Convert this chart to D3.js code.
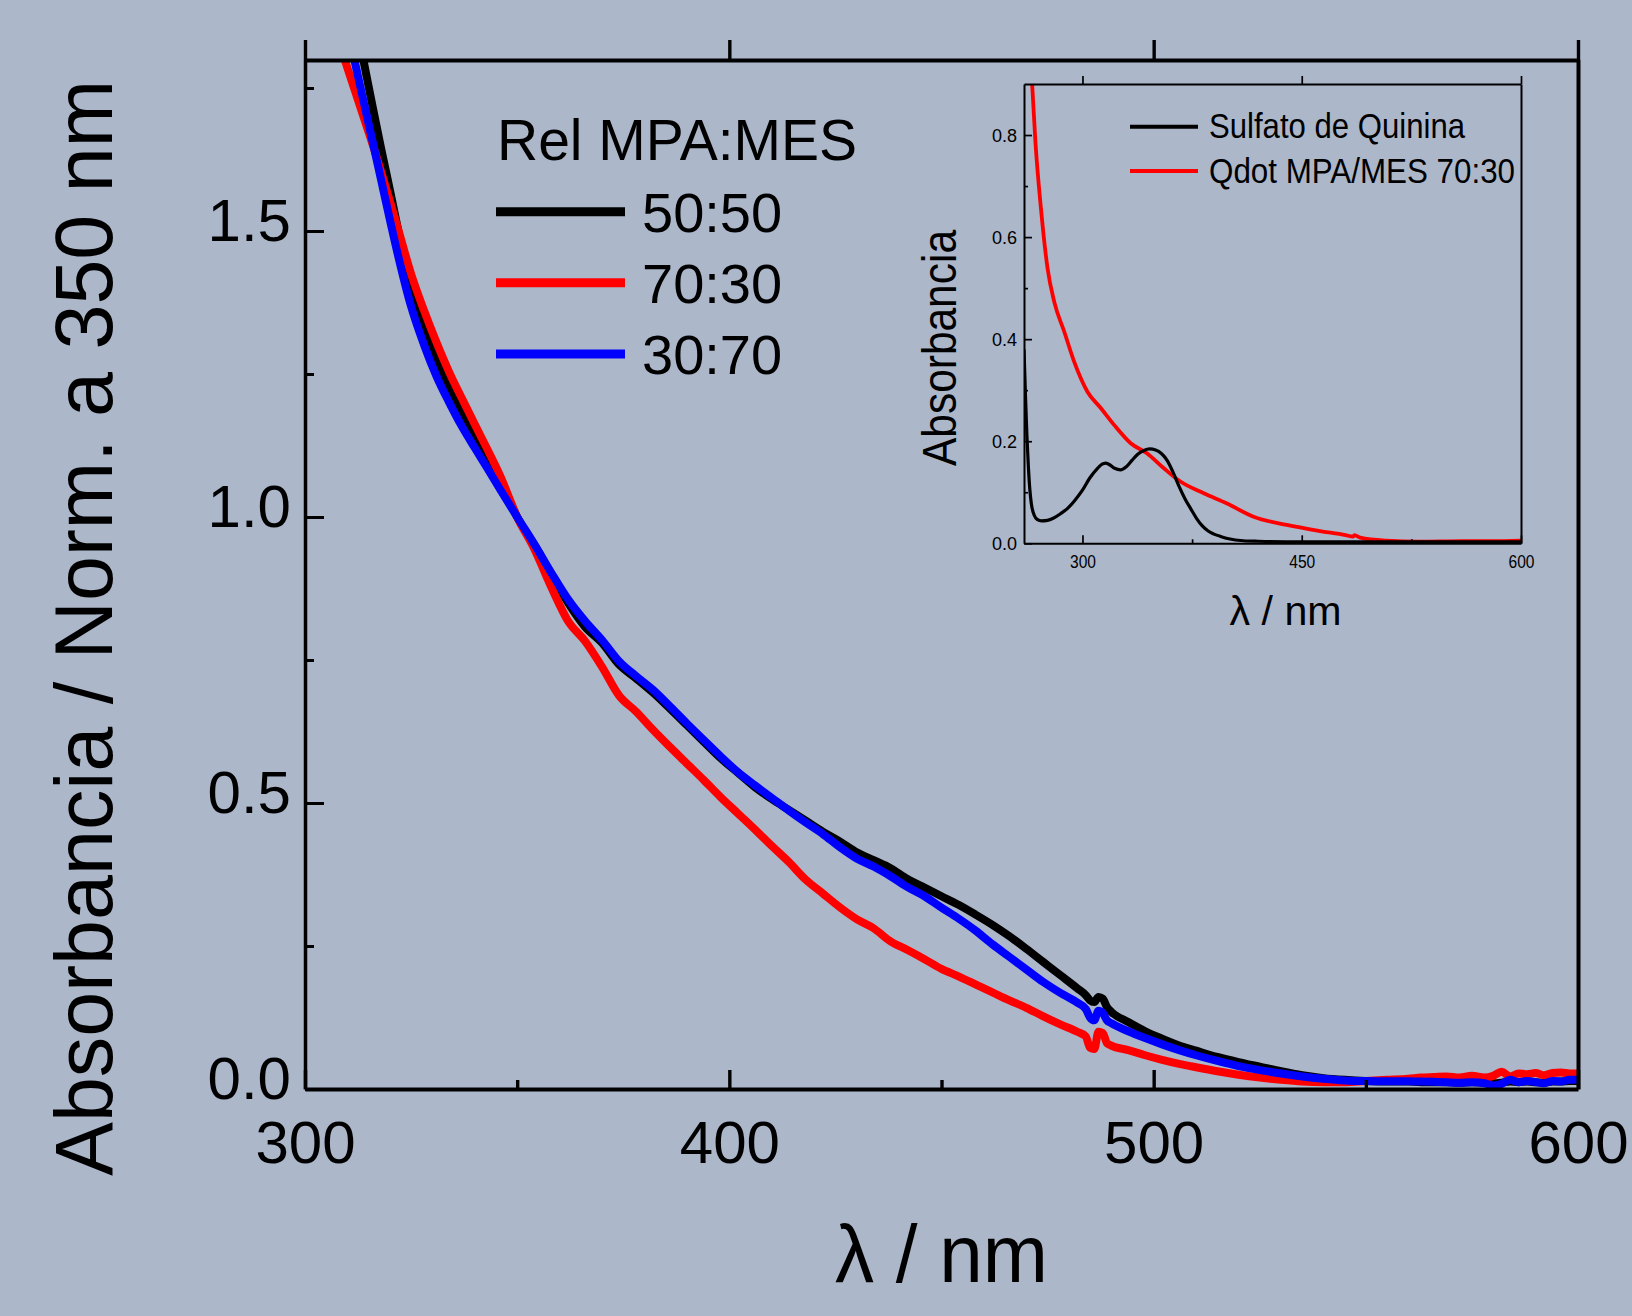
<!DOCTYPE html>
<html><head><meta charset="utf-8">
<script src="https://cdn.jsdelivr.net/npm/d3@7"></script>
<style>
html,body{margin:0;padding:0;background:#acb7ca;}
svg{display:block;}
text{font-family:"Liberation Sans",Arial,sans-serif;fill:#000;}
</style></head><body>
<svg id="chart" width="1632" height="1316"></svg>
<script>
// ---------------- main chart data ----------------
const wavelengths = [308,310,312,314,316,318,320,322,325,328,331,334,337,340,343,346,350,354,358,362,366,370,374,378,382,386,390,394,398,402,406,410,414,418,422,426,430,434,438,442,446,450,454,458,462,466,470,474,478,482,484,485,486,487,488,489,490,494,498,502,506,510,515,520,525,530,535,540,545,550,555,560,563,566,569,572,575,578,580,582,584,586,588,590,592,594,596,598,600];
const series5050 = [2.01,1.94,1.865,1.79,1.715,1.642,1.572,1.50,1.394,1.332,1.274,1.226,1.184,1.146,1.107,1.066,1.0,0.952,0.901,0.850,0.808,0.780,0.742,0.718,0.693,0.665,0.636,0.607,0.578,0.553,0.528,0.507,0.488,0.469,0.450,0.433,0.414,0.400,0.386,0.367,0.352,0.337,0.322,0.305,0.287,0.267,0.245,0.222,0.199,0.176,0.164,0.155,0.152,0.161,0.158,0.143,0.135,0.117,0.101,0.088,0.076,0.067,0.056,0.047,0.039,0.031,0.024,0.019,0.016,0.014,0.013,0.013,0.012,0.012,0.012,0.011,0.012,0.011,0.010,0.011,0.013,0.012,0.013,0.012,0.011,0.013,0.013,0.014,0.014];
const series7030 = [1.83,1.785,1.74,1.695,1.65,1.602,1.552,1.502,1.425,1.362,1.305,1.253,1.207,1.162,1.118,1.072,1.0,0.945,0.878,0.818,0.783,0.738,0.688,0.660,0.628,0.598,0.569,0.540,0.510,0.482,0.454,0.425,0.397,0.366,0.342,0.318,0.297,0.281,0.258,0.243,0.227,0.210,0.197,0.183,0.169,0.155,0.142,0.127,0.113,0.100,0.092,0.072,0.070,0.100,0.098,0.080,0.076,0.068,0.059,0.051,0.044,0.038,0.031,0.025,0.020,0.016,0.013,0.012,0.012,0.014,0.016,0.018,0.020,0.021,0.022,0.020,0.023,0.020,0.023,0.030,0.022,0.027,0.026,0.028,0.024,0.028,0.029,0.027,0.027];
const series3070 = [1.93,1.853,1.787,1.72,1.654,1.587,1.52,1.455,1.368,1.302,1.246,1.200,1.158,1.121,1.085,1.048,1.0,0.953,0.903,0.856,0.818,0.785,0.748,0.722,0.698,0.669,0.639,0.610,0.581,0.554,0.531,0.509,0.487,0.466,0.446,0.423,0.403,0.389,0.372,0.353,0.337,0.317,0.298,0.277,0.253,0.231,0.209,0.187,0.168,0.151,0.140,0.125,0.120,0.137,0.133,0.120,0.115,0.101,0.089,0.078,0.068,0.059,0.049,0.040,0.033,0.027,0.022,0.018,0.015,0.014,0.0135,0.0135,0.013,0.0125,0.012,0.011,0.012,0.010,0.006,0.009,0.016,0.012,0.014,0.012,0.010,0.014,0.013,0.016,0.016];
const seriesNames = ["50:50","70:30","30:70"];
const seriesColors = ["#000000","#ff0000","#0000ff"];
const legendTitle = "Rel MPA:MES";
const xMajorTicks = [300,400,500,600];
const xMinorTicks = [350,450,550];
const yMajorTicks = [0.0,0.5,1.0,1.5];
const yMinorTicks = [0.25,0.75,1.25,1.75];

// ---------------- inset data ----------------
const insetQSWavelengths = [260,261,262,263,264,265,267,269,272,276,280,285,290,295,300,305,310,314,316,318,322,326,330,334,338,342,346,350,354,358,362,366,370,374,378,382,386,390,395,400,410,420,450,500,550,600];
const insetQSValues = [0.38,0.29,0.21,0.15,0.105,0.078,0.055,0.047,0.044,0.045,0.049,0.058,0.069,0.085,0.104,0.128,0.146,0.156,0.157,0.155,0.147,0.144,0.150,0.163,0.175,0.182,0.185,0.183,0.176,0.162,0.139,0.112,0.088,0.068,0.049,0.034,0.024,0.018,0.013,0.009,0.005,0.004,0.003,0.003,0.003,0.003];
const insetQDWavelengths = [263,265.6,267.8,271.6,276.1,280.7,287.5,294.3,303.4,312.5,321.6,333,344.3,355.7,367,383,398.9,417,439.8,462.5,480,485,486,490,508,530,560,580,600];
const insetQDValues = [1.05,0.898,0.787,0.656,0.539,0.473,0.415,0.356,0.297,0.265,0.232,0.196,0.176,0.147,0.121,0.098,0.078,0.052,0.036,0.024,0.016,0.013,0.016,0.011,0.005,0.003,0.004,0.004,0.005];
const insetNames = ["Sulfato de Quinina","Qdot MPA/MES 70:30"];
const insetColors = ["#000000","#ff0000"];
const insetXTicks = [300,450,600];
const insetXMinor = [375,525];
const insetYTicks = [0.0,0.2,0.4,0.6,0.8];
const insetYMinor = [0.1,0.3,0.5,0.7];

const svg = d3.select("#chart");

// ---------- main scales ----------
const x = d3.scaleLinear().domain([300,600]).range([305,1578]);
const y = d3.scaleLinear().domain([0,1.8]).range([1089,59.4]);

const defs = svg.append("defs");
defs.append("clipPath").attr("id","mainClip").append("rect")
  .attr("x",305).attr("y",60).attr("width",1578-305).attr("height",1089-60);

// curves
const mainData = [series5050, series7030, series3070];
const line = d3.line().x(d=>x(d[0])).y(d=>y(d[1])).curve(d3.curveMonotoneX);
const gCurves = svg.append("g").attr("clip-path","url(#mainClip)");
mainData.forEach((vals,i)=>{
  gCurves.append("path")
    .datum(wavelengths.map((w,k)=>[w,vals[k]]))
    .attr("d",line).attr("fill","none")
    .attr("stroke",seriesColors[i]).attr("stroke-width",8)
    .attr("stroke-linejoin","round").attr("stroke-linecap","round");
});

function styleAxis(g, sw){
  g.selectAll("path.domain").attr("stroke","#000").attr("stroke-width",sw);
  g.selectAll(".tick line").attr("stroke","#000").attr("stroke-width",sw*0.85);
}
// bottom axis
const gBottom = svg.append("g").attr("transform","translate(0,1089)")
  .call(d3.axisBottom(x).tickValues(xMajorTicks).tickSize(-19).tickSizeOuter(0).tickPadding(31).tickFormat(d3.format("d")));
gBottom.selectAll("text").attr("font-size",60).attr("font-family","Liberation Sans, Arial, sans-serif").attr("fill","#000");
styleAxis(gBottom,4);
const gBottomMinor = svg.append("g").attr("transform","translate(0,1089)")
  .call(d3.axisBottom(x).tickValues(xMinorTicks).tickSize(-9).tickSizeOuter(0).tickFormat(""));
gBottomMinor.select("path.domain").remove();
styleAxis(gBottomMinor,4);

// left axis
const gLeft = svg.append("g").attr("transform","translate(305,0)")
  .call(d3.axisLeft(y).tickValues(yMajorTicks).tickSize(-19).tickSizeOuter(0).tickPadding(14).tickFormat(d3.format(".1f")));
gLeft.selectAll("text").attr("font-size",60).attr("dy","0.16em").attr("font-family","Liberation Sans, Arial, sans-serif").attr("fill","#000");
styleAxis(gLeft,3.5);
const gLeftMinor = svg.append("g").attr("transform","translate(305,0)")
  .call(d3.axisLeft(y).tickValues(yMinorTicks).tickSize(-9).tickSizeOuter(0).tickFormat(""));
gLeftMinor.select("path.domain").remove();
styleAxis(gLeftMinor,3.5);

// top axis
const gTop = svg.append("g").attr("transform","translate(0,60)")
  .call(d3.axisTop(x).tickValues(xMajorTicks).tickSize(20).tickSizeOuter(0).tickFormat(""));
styleAxis(gTop,4);
// right axis
const gRight = svg.append("g").attr("transform","translate(1578,0)")
  .call(d3.axisRight(y).tickValues([]).tickSizeOuter(0));
styleAxis(gRight,4);

// titles
svg.append("text").attr("x",941.5).attr("y",1282).attr("text-anchor","middle")
  .attr("font-size",82).attr("textLength",213).attr("lengthAdjust","spacingAndGlyphs").text("λ / nm");
svg.append("text").attr("transform","translate(112,628) rotate(-90)").attr("text-anchor","middle")
  .attr("font-size",82).attr("textLength",1096).attr("lengthAdjust","spacingAndGlyphs").text("Absorbancia / Norm. a 350 nm");

// legend
svg.append("text").attr("x",497).attr("y",160).attr("font-size",57).text(legendTitle);
const legendY = [211.7,282.7,354];
seriesNames.forEach((n,i)=>{
  svg.append("line").attr("x1",496).attr("x2",625).attr("y1",legendY[i]).attr("y2",legendY[i])
    .attr("stroke",seriesColors[i]).attr("stroke-width",9);
  svg.append("text").attr("x",642).attr("y",legendY[i]+20).attr("font-size",56).text(n);
});

// ---------------- inset ----------------
const xi = d3.scaleLinear().domain([260,600]).range([1024,1521]);
const yi = d3.scaleLinear().domain([0,0.9]).range([543.3,84]);
defs.append("clipPath").attr("id","insetClip").append("rect")
  .attr("x",1024).attr("y",84).attr("width",1521-1024).attr("height",543.3-84);
const lineI = d3.line().x(d=>xi(d[0])).y(d=>yi(d[1])).curve(d3.curveMonotoneX);
const gInset = svg.append("g").attr("clip-path","url(#insetClip)");
gInset.append("path").datum(insetQDWavelengths.map((w,k)=>[w,insetQDValues[k]]))
  .attr("d",lineI).attr("fill","none").attr("stroke",insetColors[1]).attr("stroke-width",3.8).attr("stroke-linejoin","round");
gInset.append("path").datum(insetQSWavelengths.map((w,k)=>[w,insetQSValues[k]]))
  .attr("d",lineI).attr("fill","none").attr("stroke",insetColors[0]).attr("stroke-width",3.2).attr("stroke-linejoin","round");

const giB = svg.append("g").attr("transform","translate(0,543.3)")
  .call(d3.axisBottom(xi).tickValues(insetXTicks).tickSize(-8).tickSizeOuter(0).tickPadding(12).tickFormat(d3.format("d")));
giB.selectAll("text").attr("font-size",18).attr("font-family","Liberation Sans, Arial, sans-serif").attr("fill","#000")
  .attr("textLength",26).attr("lengthAdjust","spacingAndGlyphs");
styleAxis(giB,2);
const giBm = svg.append("g").attr("transform","translate(0,543.3)")
  .call(d3.axisBottom(xi).tickValues(insetXMinor).tickSize(-4).tickSizeOuter(0).tickFormat(""));
giBm.select("path.domain").remove(); styleAxis(giBm,2);
const giL = svg.append("g").attr("transform","translate(1024,0)")
  .call(d3.axisLeft(yi).tickValues(insetYTicks).tickSize(-8).tickSizeOuter(0).tickPadding(7).tickFormat(d3.format(".1f")));
giL.selectAll("text").attr("font-size",18).attr("dy","0.35em").attr("font-family","Liberation Sans, Arial, sans-serif").attr("fill","#000");
styleAxis(giL,2);
const giLm = svg.append("g").attr("transform","translate(1024,0)")
  .call(d3.axisLeft(yi).tickValues(insetYMinor).tickSize(-4).tickSizeOuter(0).tickFormat(""));
giLm.select("path.domain").remove(); styleAxis(giLm,2);
const giT = svg.append("g").attr("transform","translate(0,84)")
  .call(d3.axisTop(xi).tickValues(insetXTicks).tickSize(8).tickSizeOuter(0).tickFormat(""));
styleAxis(giT,2);
const giR = svg.append("g").attr("transform","translate(1521,0)")
  .call(d3.axisRight(yi).tickValues([]).tickSizeOuter(0));
styleAxis(giR,2);

svg.append("text").attr("x",1285.6).attr("y",625).attr("text-anchor","middle")
  .attr("font-size",40).attr("textLength",112).attr("lengthAdjust","spacingAndGlyphs").text("λ / nm");
svg.append("text").attr("transform","translate(956,348) rotate(-90)").attr("text-anchor","middle")
  .attr("font-size",48).attr("textLength",236).attr("lengthAdjust","spacingAndGlyphs").text("Absorbancia");

const insetLegY = [126.7,171];
const insetLegLen = [256,306];
insetNames.forEach((n,i)=>{
  svg.append("line").attr("x1",1130).attr("x2",1198).attr("y1",insetLegY[i]).attr("y2",insetLegY[i])
    .attr("stroke",insetColors[i]).attr("stroke-width",4);
  svg.append("text").attr("x",1209).attr("y",insetLegY[i]+11.5).attr("font-size",35)
    .attr("textLength",insetLegLen[i]).attr("lengthAdjust","spacingAndGlyphs").text(n);
});
</script>
</body></html>
